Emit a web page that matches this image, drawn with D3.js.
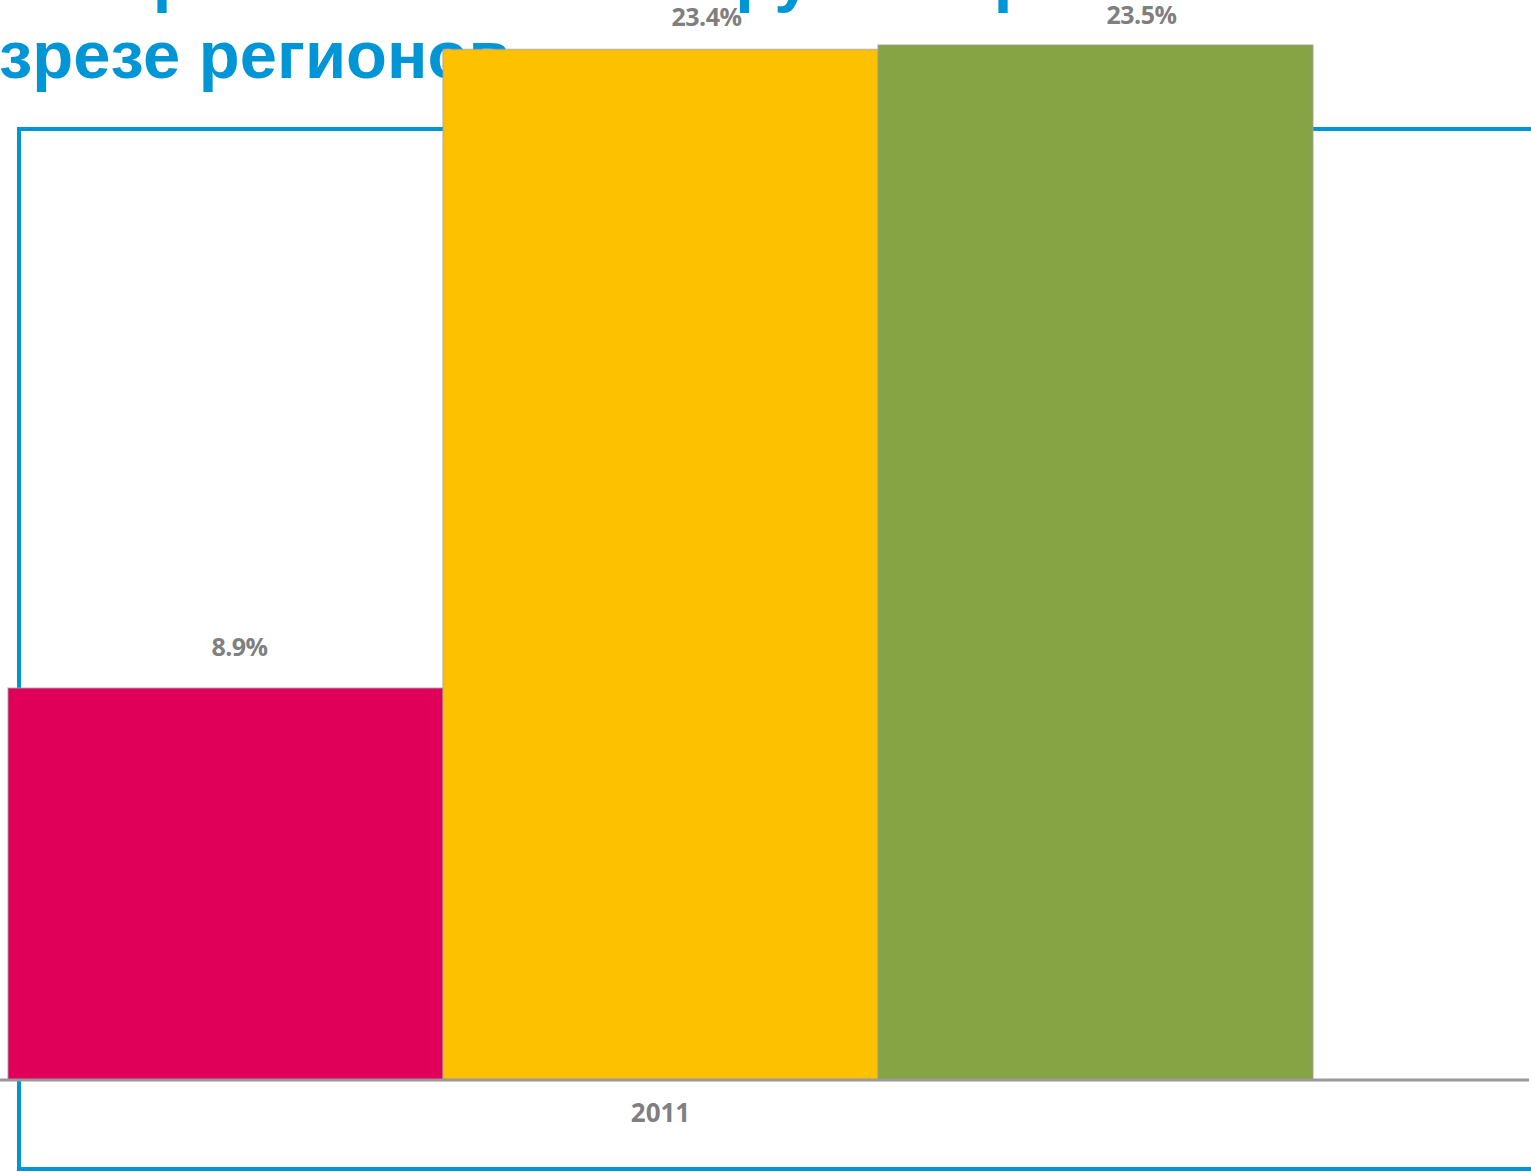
<!DOCTYPE html>
<html>
<head>
<meta charset="utf-8">
<script src="https://cdn.jsdelivr.net/npm/d3@7"></script>
<style>
  body { margin: 0; background: #fff; overflow: hidden; }
  svg { display: block; }
</style>
</head>
<body>
<script>
// data
let titleLines = ["Темпы роста сегмента наружной рекламы 2011 г. в", "разрезе регионов"];
let years = ["2011"];
let regions = ["Регион 1", "Регион 2", "Регион 3"];
let growth = [8.9, 23.4, 23.5];
let colors = ["#e0005a", "#fdc100", "#86a443"];

// where Excel put the data labels relative to the bar top centre
let labelDx = [14, 46, 46];
let labelDy = [-32, -23, -21];

let width = 1531, height = 1172;

let svg = d3.select("body").append("svg")
    .attr("width", width)
    .attr("height", height);

// slide title (partly out of frame)
svg.append("g").selectAll("text")
  .data(titleLines)
  .enter()
  .append("text")
    .attr("x", -80)
    .attr("y", function(d, i) { return i == 0 ? -1 : 78; })
    .attr("font-family", "Liberation Sans, Arial, sans-serif")
    .attr("font-weight", "bold")
    .attr("font-size", 67)
    .attr("letter-spacing", function(d, i) { return i == 0 ? -1.2 : 0; })
    .attr("fill", "#0096d6")
    .text(function(d) { return d; });

// blue frame of the slide body
svg.append("rect")
  .attr("x", 19).attr("y", 129)
  .attr("width", 1600).attr("height", 1040)
  .attr("fill", "none")
  .attr("stroke", "#0096d6")
  .attr("stroke-width", 4);

let x0 = d3.scaleBand().domain(years).range([8, 1313]);
let x1 = d3.scaleBand().domain(regions).range([0, x0.bandwidth()]);
let y = d3.scaleLinear().domain([0, 23.5]).range([1080, 45]);

let data = regions.map(function(r, i) {
  return { year: years[0], region: r, value: growth[i], color: colors[i],
           dx: labelDx[i], dy: labelDy[i] };
});

let bars = svg.append("g")
  .selectAll("g")
  .data(data)
  .enter()
  .append("g")
  .attr("transform", function(d) {
    return "translate(" + (x0(d.year) + x1(d.region)) + ",0)";
  });

bars.append("rect")
  .attr("y", function(d) { return y(d.value); })
  .attr("width", x1.bandwidth())
  .attr("height", function(d) { return y(0) - y(d.value); })
  .attr("fill", function(d) { return d.color; })
  .attr("stroke", "#a0a0a0")
  .attr("stroke-opacity", 0.6)
  .attr("stroke-width", 1.5);

bars.append("text")
  .attr("x", function(d) { return x1.bandwidth() / 2 + d.dx; })
  .attr("y", function(d) { return y(d.value) + d.dy; })
  .attr("text-anchor", "middle")
  .attr("font-family", "Open Sans, sans-serif")
  .attr("font-weight", "bold")
  .attr("font-size", 25)
  .attr("letter-spacing", -0.5)
  .attr("fill", "#7f7f7f")
  .text(function(d) { return d3.format(".1f")(d.value) + "%"; });

// category axis
let axis = svg.append("g")
  .attr("transform", "translate(0," + y(0) + ")")
  .call(d3.axisBottom(x0).tickSize(0).tickPadding(24));
axis.select(".domain").remove();
axis.selectAll("text")
  .attr("font-family", "Open Sans, sans-serif")
  .attr("font-weight", "bold")
  .attr("font-size", 26)
  .attr("fill", "#7f7f7f");

svg.append("line")
  .attr("x1", 0).attr("x2", 1529)
  .attr("y1", y(0)).attr("y2", y(0))
  .attr("stroke", "#9a9a9a")
  .attr("stroke-width", 3);
</script>
</body>
</html>
